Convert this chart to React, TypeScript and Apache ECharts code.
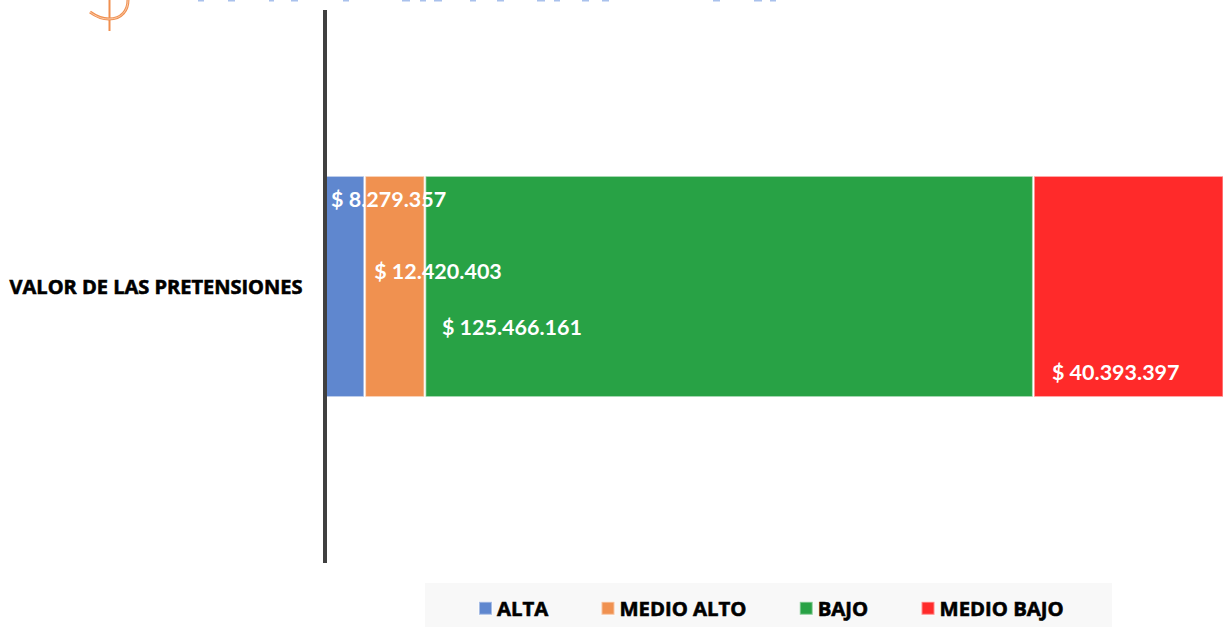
import React, { useEffect, useRef } from "react";
import * as echarts from "echarts";

const categories = ["VALOR DE LAS PRETENSIONES"];
const seriesNames = ["ALTA", "MEDIO ALTO", "BAJO", "MEDIO BAJO"];
const alta = [8279357];
const medioAlto = [12420403];
const bajo = [125466161];
const medioBajo = [40393397];
const seriesValues = [alta, medioAlto, bajo, medioBajo];
const colors = ["#5f87cf", "#f09150", "#28a245", "#ff2a2a"];
const labelOffsets = [[6.5, -88], [9.5, -16], [17, 40], [18.5, 85]];
const titleFragments = [[198,6],[228,7],[269,5],[291,7],[343,6],[402,8],[420,6],[434,8],[470,6],[497,7],[537,8],[554,6],[582,7],[602,7],[713,7],[754,8],[770,6]];

const money = (v: number) => "$ " + String(v).replace(/\B(?=(\d{3})+(?!\d))/g, ".");

export default function App() {
  const ref = useRef<HTMLDivElement>(null);
  useEffect(() => {
    document.body.style.margin = "0";
    const chart = echarts.init(ref.current!, null, { renderer: "svg" });
    const orange = "#f08f4f";
    chart.setOption({
      animation: false,
      backgroundColor: "#ffffff",
      grid: { left: 324.5, top: 10, width: 898.5, height: 553, containLabel: false },
      xAxis: { type: "value", min: 0, max: 185260000, show: false },
      yAxis: {
        type: "category",
        data: categories,
        offset: 0.5,
        z: 3,
        axisLine: { show: true, lineStyle: { color: "#404040", width: 4, cap: "butt" } },
        axisTick: { show: false },
        axisLabel: {
          margin: 21.5,
          color: "#000000",
          fontFamily: "Open Sans",
          fontWeight: 700,
          fontSize: 20,
          textBorderColor: "#000000",
          textBorderWidth: 0.6,
        },
      },
      legend: {
        left: 478,
        top: 598,
        itemWidth: 13,
        itemHeight: 13,
        itemGap: 52,
        padding: 0,
        icon: "rect",
        data: seriesNames,
        textStyle: {
          color: "#000000",
          fontFamily: "Open Sans",
          fontWeight: 700,
          fontSize: 20.3,
          textBorderColor: "#000000",
          textBorderWidth: 0.6,
        },
      },
      series: seriesNames.map((name, i) => ({
        type: "bar",
        name,
        stack: "total",
        data: seriesValues[i],
        barWidth: 222,
        itemStyle: { color: colors[i], borderColor: "rgba(255,255,255,0.45)", borderWidth: 1.5 },
        label: {
          show: true,
          position: "insideLeft",
          distance: 0,
          offset: labelOffsets[i],
          color: "#ffffff",
          fontFamily: "Lato",
          fontWeight: 700,
          fontSize: 21.5,
          formatter: (p: any) => money(p.value),
        },
      })),
      graphic: [
        { type: "rect", z: -1, silent: true, shape: { x: 425, y: 583, width: 687, height: 44 }, style: { fill: "#f8f8f8" } },
        { type: "line", shape: { x1: 109.5, y1: 0, x2: 109.5, y2: 31 }, style: { stroke: orange, lineWidth: 2 } },
        { type: "bezierCurve", shape: { x1: 90, y1: 12, cpx1: 97, cpy1: 17, cpx2: 102, cpy2: 19, x2: 109, y2: 19 }, style: { stroke: orange, lineWidth: 3, fill: "none" } },
        { type: "bezierCurve", shape: { x1: 109, y1: 19, cpx1: 122, cpy1: 19, cpx2: 128, cpy2: 10, x2: 128, y2: 0 }, style: { stroke: orange, lineWidth: 3, fill: "none" } },
        { type: "bezierCurve", shape: { x1: 90, y1: 12, cpx1: 97, cpy1: 17, cpx2: 102, cpy2: 19, x2: 109, y2: 19 }, style: { stroke: "#fbd9c2", lineWidth: 0.8, fill: "none" } },
        { type: "bezierCurve", shape: { x1: 109, y1: 19, cpx1: 122, cpy1: 19, cpx2: 128, cpy2: 10, x2: 128, y2: 0 }, style: { stroke: "#fbd9c2", lineWidth: 0.8, fill: "none" } },
        ...titleFragments.map(([x, w]) => ({
          type: "rect",
          shape: { x, y: 0, width: w, height: 1.5 },
          style: { fill: "#a9c1ec" },
        })),
      ],
    });
    return () => chart.dispose();
  }, []);
  return <div ref={ref} style={{ width: 1223, height: 627 }} />;
}
